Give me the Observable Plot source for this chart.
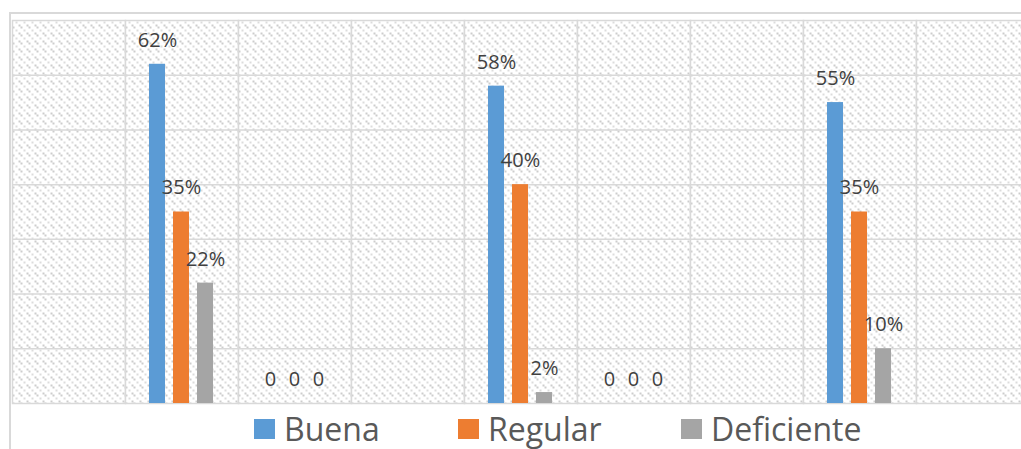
<!DOCTYPE html>
<html>
<head>
<meta charset="utf-8">
<script src="https://cdn.jsdelivr.net/npm/d3@7"></script>
<script src="https://cdn.jsdelivr.net/npm/@observablehq/plot@0.6"></script>
<style>
  html, body { margin: 0; padding: 0; background: #fff; overflow: hidden; }
  #wrap { position: relative; width: 1021px; height: 449px; overflow: hidden; }
  #border { position: absolute; left: 9px; top: 12px; width: 1040px; height: 460px;
            border-top: 2px solid #d9d9d9; border-left: 2px solid #d9d9d9; pointer-events: none; }
  #chart { position: absolute; left: 0; top: 0; width: 1031px; }
  #chart svg { max-width: none !important; }
  .leg { position: absolute; top: 410px; display: flex; align-items: center;
         font-family: "Open Sans", sans-serif; font-size: 32px; color: #595959; line-height: 38px; }
  .leg span.sw { display: inline-block; width: 21px; height: 20px; margin-right: 9px; }
</style>
</head>
<body>
<svg width="0" height="0" style="position:absolute">
  <defs>
    <pattern id="hatch" width="8" height="8" patternUnits="userSpaceOnUse">
      <rect x="0" y="0" width="8" height="8" fill="#ffffff"></rect>
      <rect x="0" y="0" width="2" height="2" fill="#cdcdcd"></rect>
      <rect x="2" y="2" width="2" height="2" fill="#cdcdcd"></rect>
      <rect x="5" y="5" width="2" height="2" fill="#dcdcdc"></rect>
    </pattern>
  </defs>
</svg>
<div id="wrap">
  <div id="chart"></div>
  <div id="border"></div>
  <div id="legend"></div>
</div>
<script>
const categories = ["1", "2", "3", "4", "5", "6", "7", "8", "9"];
const series = ["Buena", "Regular", "Deficiente"];
const buena      = [null, 0.62, 0, null, 0.58, 0, null, 0.55, null];
const regular    = [null, 0.35, 0, null, 0.40, 0, null, 0.35, null];
const deficiente = [null, 0.22, 0, null, 0.02, 0, null, 0.10, null];
const colors = ["#5B9BD5", "#ED7D31", "#A5A5A5"];
const yTicks = [0.1, 0.2, 0.3, 0.4, 0.5, 0.6];
const yMax = 0.7;

const seriesValues = [buena, regular, deficiente];
const rows = categories.flatMap((c, i) =>
  series.map((s, j) => ({cat: c, serie: s, value: seriesValues[j][i]}))
);

const fmt = v => v === 0 ? "0" : Math.round(v * 100) + "%";

const chart = Plot.plot({
  width: 1031,
  height: 405,
  marginLeft: 10,
  marginRight: 0,
  marginTop: 20,
  marginBottom: 2,
  facet: {data: rows, x: "cat"},
  fx: {domain: categories, padding: 0, axis: null, label: null},
  x: {domain: series, paddingInner: 0.32, paddingOuter: 0.928, axis: null, label: null},
  y: {domain: [0, yMax], axis: null, label: null},
  color: {domain: series, range: colors},
  style: {background: "transparent", overflow: "visible", maxWidth: "none"},
  marks: [
    Plot.frame({fill: "url(#hatch)", stroke: "#d9d9d9", strokeWidth: 1.5}),
    Plot.ruleY(yTicks, {stroke: "#d9d9d9", strokeWidth: 1.5}),
    Plot.barY(rows, {filter: d => d.value != null, x: "serie", y: "value", fill: "serie"}),
    Plot.text(rows, {
      filter: d => d.value != null,
      x: "serie", y: "value",
      text: d => fmt(d.value),
      dy: -24,
      fill: "#404040",
      fontSize: 20,
      fontFamily: "Open Sans, sans-serif"
    })
  ]
});
document.getElementById("chart").appendChild(chart);

const legendLeft = [254, 458, 681];
const legend = document.getElementById("legend");
series.forEach((s, i) => {
  const item = document.createElement("div");
  item.className = "leg";
  item.style.left = legendLeft[i] + "px";
  const sw = document.createElement("span");
  sw.className = "sw";
  sw.style.background = colors[i];
  const t = document.createElement("span");
  t.textContent = s;
  item.appendChild(sw);
  item.appendChild(t);
  legend.appendChild(item);
});
</script>
</body>
</html>
